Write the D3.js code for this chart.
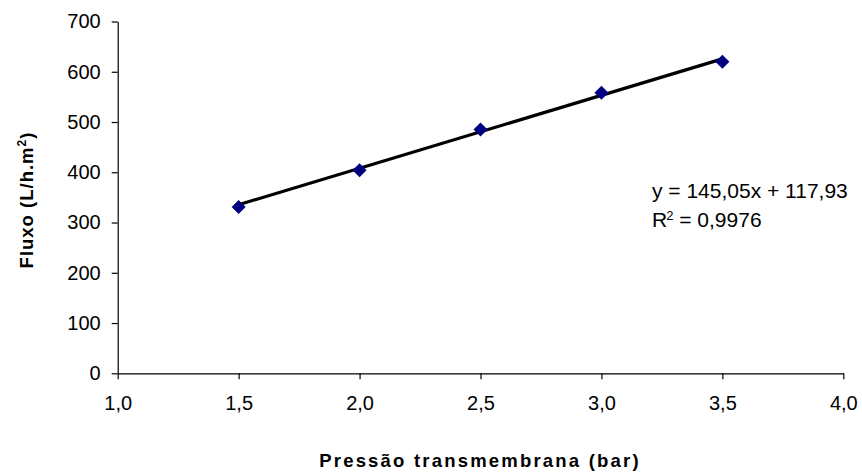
<!DOCTYPE html>
<html>
<head>
<meta charset="utf-8">
<script src="https://cdn.jsdelivr.net/npm/d3@7"></script>
<style>
  html, body { margin: 0; padding: 0; background: #fff; }
  svg { display: block; }
  text { font-family: "Liberation Sans", Arial, sans-serif; fill: #000; }
</style>
</head>
<body>
<svg id="chart" width="862" height="473"></svg>
<script>
// Data
const pressure = [1.5, 2.0, 2.5, 3.0, 3.5];
const flux = [331, 404, 485, 558, 620];
const xTicks = [1.0, 1.5, 2.0, 2.5, 3.0, 3.5, 4.0];
const yTicks = [0, 100, 200, 300, 400, 500, 600, 700];
const trendSlope = 145.05;
const trendIntercept = 117.93;
const trendR2 = 0.9976;
const xTitle = "Pressão transmembrana (bar)";
const yTitle = "Fluxo (L/h.m²)";

const svg = d3.select("#chart");
const x = d3.scaleLinear().domain([1, 4]).range([117.7, 843.3]);
const y = d3.scaleLinear().domain([0, 700]).range([373.3, 21.5]);
const fmt = v => d3.format(".1f")(v).replace(".", ",");

// Axes
const xAxis = svg.append("g").attr("transform", `translate(0,${y(0)})`)
  .call(d3.axisBottom(x).tickValues(xTicks).tickFormat(fmt).tickSizeInner(6).tickSizeOuter(0).tickPadding(17));
const yAxis = svg.append("g").attr("transform", `translate(${x(1)},0)`)
  .call(d3.axisLeft(y).tickValues(yTicks).tickSizeInner(6).tickSizeOuter(0).tickPadding(11));
[xAxis, yAxis].forEach(g => {
  g.select(".domain").attr("stroke", "#000").attr("stroke-width", 1.2);
  g.selectAll(".tick line").attr("stroke", "#000").attr("stroke-width", 1.2);
  g.selectAll("text").style("font-size", "20px").style("font-family", '"Liberation Sans", Arial, sans-serif').attr("fill", "#000");
});

// Trendline
const line = d3.line().x(d => x(d)).y(d => y(trendSlope * d + trendIntercept));
svg.append("path")
  .datum([d3.min(pressure), d3.max(pressure)])
  .attr("d", line)
  .attr("fill", "none").attr("stroke", "#000").attr("stroke-width", 3.2);

// Markers
const diamond = d3.symbol().type(d3.symbolDiamond2).size(125);
svg.selectAll(".pt").data(pressure).join("path")
  .attr("class", "pt")
  .attr("d", diamond)
  .attr("transform", (d, i) => `translate(${x(d)},${y(flux[i])})`)
  .attr("fill", "#000080");

// Equation text
const eq = svg.append("text").attr("x", 652).attr("y", 198).style("font-size", "21px");
eq.text(`y = ${d3.format(".2f")(trendSlope).replace(".", ",")}x + ${d3.format(".2f")(trendIntercept).replace(".", ",")}`);
const r2 = svg.append("text").attr("x", 652).attr("y", 227).style("font-size", "21px");
r2.append("tspan").text("R");
r2.append("tspan").text("2").style("font-size", "13px").attr("dy", "-7").attr("dx", "-1");
r2.append("tspan").text(` = ${d3.format(".4f")(trendR2).replace(".", ",")}`).attr("dy", "7");

// Axis titles
svg.append("text")
  .attr("x", 480).attr("y", 467)
  .attr("text-anchor", "middle")
  .style("font-size", "18.5px").style("font-weight", "bold").style("letter-spacing", "2.2px")
  .text(xTitle);

const yt = svg.append("text")
  .attr("transform", "translate(33,200) rotate(-90)")
  .attr("text-anchor", "middle")
  .style("font-size", "18.5px").style("font-weight", "bold").style("letter-spacing", "1px");
yt.append("tspan").text("Fluxo (L/h.m");
yt.append("tspan").text("2").style("font-size", "12px").attr("dy", "-7");
yt.append("tspan").text(")").attr("dy", "7");
</script>
</body>
</html>
